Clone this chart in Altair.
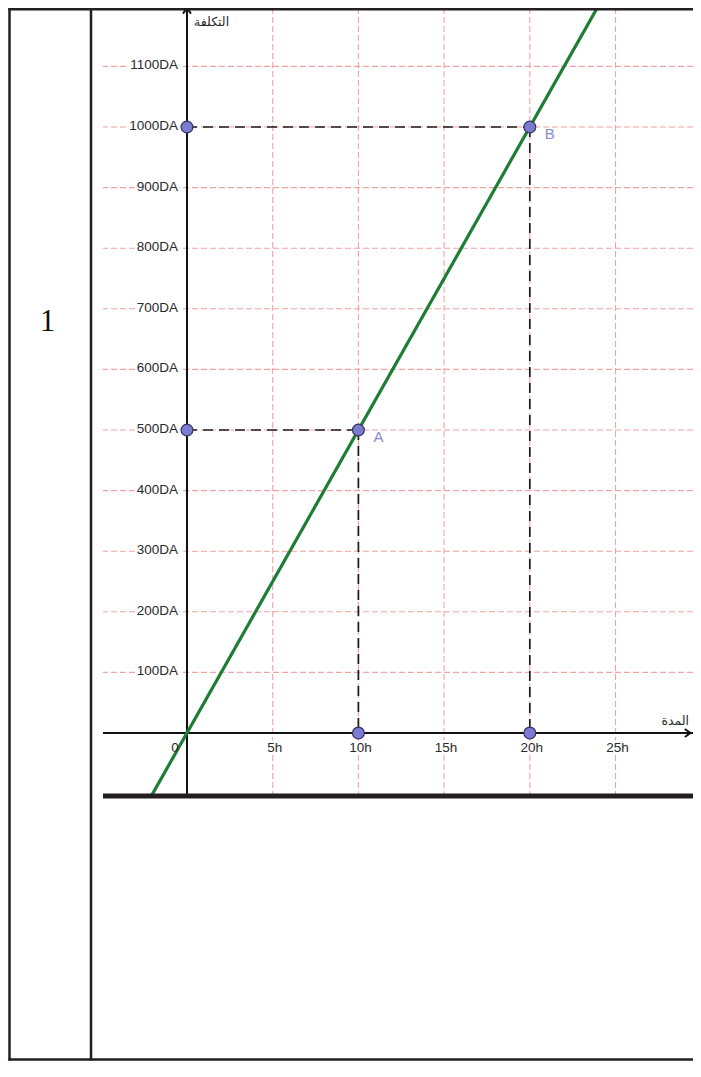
import altair as alt
import pandas as pd

# ---- data ----
grid_x = [5, 10, 15, 20, 25]
grid_y = [100, 200, 300, 400, 500, 600, 700, 800, 900, 1000, 1100]
ytick_vals = [100, 200, 300, 400, 500, 600, 700, 800, 900, 1000, 1100]
ytick_text = ["100DA", "200DA", "300DA", "400DA", "500DA", "600DA",
              "700DA", "800DA", "900DA", "1000DA", "1100DA"]
xtick_vals = [5, 10, 15, 20, 25]
xtick_text = ["5h", "10h", "15h", "20h", "25h"]
origin_text = ["0"]
line_x = [-2.2, 24.2]
line_y = [-110, 1210]
pts_x = [0, 0, 10, 20, 10, 20]
pts_y = [500, 1000, 500, 1000, 0, 0]
seg_x1 = [0, 10, 0, 20]
seg_y1 = [500, 500, 1000, 1000]
seg_x2 = [10, 10, 20, 20]
seg_y2 = [500, 0, 1000, 0]
lbl_x = [10, 20]
lbl_y = [500, 1000]
lbl_text = ["A", "B"]
y_title = "التكلفة"
x_title = "المدة"
row_label = "1"

X_DOMAIN = [-4.90, 29.52]
Y_DOMAIN = [-100.7, 1196.4]
W, H = 590, 786

xs = alt.Scale(domain=X_DOMAIN, nice=False, zero=False)
ys = alt.Scale(domain=Y_DOMAIN, nice=False, zero=False)


def X(f="x"):
    return alt.X(f"{f}:Q", scale=xs, axis=None)


def Y(f="y"):
    return alt.Y(f"{f}:Q", scale=ys, axis=None)


GRID = "#F0A3A3"
SANS = "Liberation Sans"
TXT = "#2A2A2A"

grid_v = alt.Chart(pd.DataFrame({"x": grid_x})).mark_rule(
    color=GRID, strokeWidth=1.1, strokeDash=[6, 3], clip=True
).encode(x=X())
grid_h = alt.Chart(pd.DataFrame({"y": grid_y})).mark_rule(
    color=GRID, strokeWidth=1.1, strokeDash=[6, 3], clip=True
).encode(y=Y())

axis_y = alt.Chart(pd.DataFrame({"x": [0]})).mark_rule(
    color="#111111", strokeWidth=2
).encode(x=X())
axis_x = alt.Chart(pd.DataFrame({"y": [0]})).mark_rule(
    color="#111111", strokeWidth=2
).encode(y=Y())

segs = alt.Chart(pd.DataFrame({"x": seg_x1, "y": seg_y1, "x2": seg_x2, "y2": seg_y2})).mark_rule(
    color="#1A1A1A", strokeWidth=1.7, strokeDash=[10, 6]
).encode(x=X(), y=Y(), x2="x2:Q", y2="y2:Q")

green = alt.Chart(pd.DataFrame({"x": line_x, "y": line_y})).mark_line(
    color="#1E7D34", strokeWidth=3.2, clip=True
).encode(x=X(), y=Y())

points = alt.Chart(pd.DataFrame({"x": pts_x, "y": pts_y})).mark_point(
    filled=True, fill="#7B7BCF", stroke="#343466", strokeWidth=1.2, size=140, opacity=1
).encode(x=X(), y=Y())

labels = alt.Chart(pd.DataFrame({"x": lbl_x, "y": lbl_y, "t": lbl_text})).mark_text(
    font=SANS, fontSize=15, color="#8A8AD0", dx=20, dy=7, align="center", baseline="middle"
).encode(x=X(), y=Y(), text="t:N")


def tick_text(df, halo, **kw):
    if halo:
        return alt.Chart(df).mark_text(
            font=SANS, fontSize=13.5, color="white", stroke="white", strokeWidth=5, **kw
        ).encode(x=X(), y=Y(), text="t:N")
    return alt.Chart(df).mark_text(
        font=SANS, fontSize=13.5, color=TXT, **kw
    ).encode(x=X(), y=Y(), text="t:N")


ydf = pd.DataFrame({"x": [0] * len(ytick_vals), "y": ytick_vals, "t": ytick_text})
xdf = pd.DataFrame({"x": xtick_vals, "y": [0] * len(xtick_vals), "t": xtick_text})
odf = pd.DataFrame({"x": [0], "y": [0], "t": origin_text})
ykw = dict(dx=-9, dy=-1, align="right", baseline="middle")
xkw = dict(dx=2, dy=19, align="center", baseline="alphabetic")
okw = dict(dx=-12, dy=19, align="center", baseline="alphabetic")

ytk_h = tick_text(ydf, True, **ykw)
ytk = tick_text(ydf, False, **ykw)
xtk_h = tick_text(xdf, True, **xkw)
xtk = tick_text(xdf, False, **xkw)
x0_h = tick_text(odf, True, **okw)
x0 = tick_text(odf, False, **okw)

ytitle = alt.Chart(pd.DataFrame({"x": [0], "y": [Y_DOMAIN[1]], "t": [y_title]})).mark_text(
    font="DejaVu Sans", fontSize=12.5, color=TXT, dx=7, dy=14, align="left", baseline="middle"
).encode(x=X(), y=Y(), text="t:N")

xtitle = alt.Chart(pd.DataFrame({"x": [X_DOMAIN[1]], "y": [0], "t": [x_title]})).mark_text(
    font="DejaVu Sans", fontSize=12.5, color=TXT, dx=-4, dy=-12, align="right", baseline="middle"
).encode(x=X(), y=Y(), text="t:N")

arrow_y = alt.Chart(pd.DataFrame({"x": [0], "y": [Y_DOMAIN[1]]})).mark_point(
    shape="M-1,1.4L0,0L1,1.4", size=64, filled=False, color="#111111", strokeWidth=2, opacity=1
).encode(x=X(), y=Y())
arrow_x = alt.Chart(pd.DataFrame({"x": [X_DOMAIN[1] - 0.15], "y": [0]})).mark_point(
    shape="M-1.4,-1L0,0L-1.4,1", size=64, filled=False, color="#111111", strokeWidth=2, opacity=1
).encode(x=X(), y=Y())

# ---- table frame (decoration, pixel positions) ----
one = pd.DataFrame({"k": [0]})
BORDER = "#231F20"
frame_left = alt.Chart(one).mark_rule(color=BORDER, strokeWidth=2.5).encode(
    x=alt.value(-93.5), y=alt.value(0), y2=alt.value(1052.5))
frame_mid = alt.Chart(one).mark_rule(color=BORDER, strokeWidth=2.5).encode(
    x=alt.value(-12), y=alt.value(0), y2=alt.value(1052.5))
frame_top = alt.Chart(one).mark_rule(color=BORDER, strokeWidth=2.5).encode(
    x=alt.value(-94.7), x2=alt.value(590), y=alt.value(1.2))
frame_bot = alt.Chart(one).mark_rule(color=BORDER, strokeWidth=2.5).encode(
    x=alt.value(-94.7), x2=alt.value(590), y=alt.value(1051.5))
graph_bot = alt.Chart(one).mark_rule(color=BORDER, strokeWidth=5).encode(
    x=alt.value(0), x2=alt.value(590), y=alt.value(788))
num = alt.Chart(pd.DataFrame({"t": [row_label]})).mark_text(
    font="Liberation Serif", fontSize=31, color="#111111", align="center", baseline="alphabetic"
).encode(x=alt.value(-55.5), y=alt.value(323), text="t:N")

chart = alt.layer(
    grid_v, grid_h, ytk_h, xtk_h, x0_h, axis_y, axis_x, segs, green, points, labels,
    ytk, xtk, x0, ytitle, xtitle, arrow_y, arrow_x,
    frame_left, frame_mid, frame_top, frame_bot, graph_bot, num
).properties(
    width=W, height=H,
    padding={"left": 95, "top": 0, "right": 0, "bottom": 268},
    autosize=alt.AutoSizeParams(type="none"),
    background="white",
).configure_view(strokeWidth=0)

chart.save("out.html", embed_options={"renderer": "svg", "actions": False})
